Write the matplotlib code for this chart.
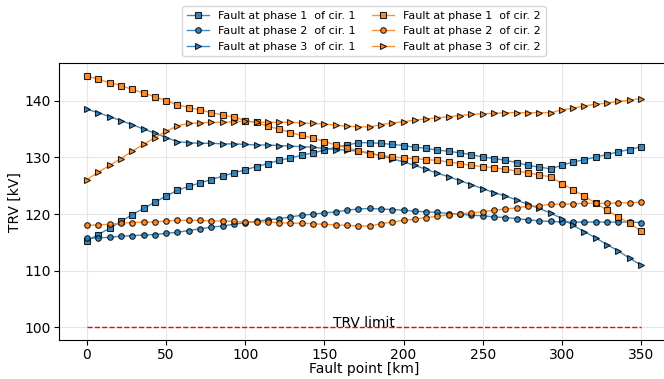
import numpy as np
import matplotlib
matplotlib.use("Agg")
import matplotlib.pyplot as plt

# fault points along the line, 50 samples from 0 to 350 km
fault_km = np.linspace(0, 350, 50)

trv_c1_p1 = [115.3, 116.4, 117.5, 118.7, 119.9, 121.0, 122.1, 123.2, 124.2, 124.9,
             125.5, 126.1, 126.7, 127.3, 127.8, 128.4, 128.9, 129.5, 129.9, 130.4,
             130.8, 131.3, 131.8, 132.2, 132.6, 132.6, 132.5, 132.3, 132.1, 131.8,
             131.6, 131.3, 131.1, 130.8, 130.5, 130.1, 129.8, 129.5, 129.1, 128.6,
             128.3, 128.0, 128.6, 129.2, 129.6, 130.1, 130.5, 131.0, 131.4, 131.9]
trv_c1_p2 = [115.7, 115.8, 115.9, 116.1, 116.2, 116.3, 116.4, 116.6, 116.8, 117.1,
             117.4, 117.7, 117.9, 118.2, 118.5, 118.7, 119.0, 119.2, 119.5, 119.8,
             120.0, 120.2, 120.4, 120.7, 120.9, 121.0, 120.9, 120.8, 120.7, 120.5,
             120.4, 120.3, 120.1, 120.0, 119.8, 119.7, 119.5, 119.4, 119.2, 119.0,
             118.8, 118.7, 118.6, 118.6, 118.6, 118.6, 118.6, 118.6, 118.6, 118.5]
trv_c1_p3 = [138.5, 137.9, 137.2, 136.5, 135.8, 135.0, 134.3, 133.5, 132.8, 132.6,
             132.5, 132.5, 132.4, 132.4, 132.3, 132.2, 132.2, 132.1, 132.0, 131.9,
             131.8, 131.6, 131.4, 131.3, 131.1, 130.8, 130.3, 129.8, 129.2, 128.6,
             127.9, 127.2, 126.6, 125.9, 125.2, 124.5, 123.8, 123.2, 122.5, 121.7,
             121.0, 120.2, 119.2, 118.0, 116.9, 115.8, 114.6, 113.5, 112.2, 111.0]
trv_c2_p1 = [144.4, 143.8, 143.2, 142.7, 142.0, 141.4, 140.7, 140.0, 139.3, 138.8,
             138.4, 137.9, 137.5, 137.1, 136.5, 136.2, 135.5, 135.0, 134.4, 133.9,
             133.4, 132.8, 132.2, 131.7, 131.2, 130.6, 130.4, 130.1, 129.9, 129.8,
             129.6, 129.5, 129.2, 128.9, 128.6, 128.4, 128.2, 127.9, 127.6, 127.3,
             126.9, 126.6, 125.4, 124.3, 123.2, 121.9, 120.7, 119.5, 118.4, 117.0]
trv_c2_p2 = [118.0, 118.1, 118.2, 118.4, 118.5, 118.6, 118.6, 118.8, 118.9, 118.9,
             118.9, 118.8, 118.8, 118.7, 118.6, 118.6, 118.6, 118.5, 118.4, 118.4,
             118.3, 118.2, 118.1, 118.0, 117.9, 117.9, 118.3, 118.6, 118.9, 119.1,
             119.4, 119.6, 119.9, 120.1, 120.2, 120.4, 120.7, 120.9, 121.1, 121.4,
             121.5, 121.7, 121.8, 121.8, 121.9, 121.9, 121.9, 122.0, 122.0, 122.1]
trv_c2_p3 = [126.1, 127.4, 128.6, 129.8, 131.1, 132.3, 133.5, 134.6, 135.6, 136.0,
             136.1, 136.2, 136.2, 136.3, 136.4, 136.2, 136.2, 136.2, 136.2, 136.1,
             136.0, 135.9, 135.7, 135.5, 135.4, 135.4, 135.8, 136.1, 136.3, 136.6,
             136.8, 137.0, 137.2, 137.4, 137.6, 137.7, 137.8, 137.9, 137.9, 137.9,
             137.9, 137.9, 138.4, 138.7, 139.1, 139.4, 139.6, 139.9, 140.1, 140.4]

trv_limit = 100

fig = plt.figure(figsize=(6.64, 3.79), dpi=100)
# right spine ends up just outside the picture, as in the original crop
ax = fig.add_axes([0.0893, 0.1029, 0.9177, 0.7301])

series = [
    (trv_c1_p1, "tab:blue", "s", "Fault at phase 1  of cir. 1"),
    (trv_c1_p2, "tab:blue", "o", "Fault at phase 2  of cir. 1"),
    (trv_c1_p3, "tab:blue", ">", "Fault at phase 3  of cir. 1"),
    (trv_c2_p1, "tab:orange", "s", "Fault at phase 1  of cir. 2"),
    (trv_c2_p2, "tab:orange", "o", "Fault at phase 2  of cir. 2"),
    (trv_c2_p3, "tab:orange", ">", "Fault at phase 3  of cir. 2"),
]
for vals, col, mk, lab in series:
    ax.plot(fault_km, vals, color=col, marker=mk, markersize=4,
            markeredgecolor="black", markeredgewidth=0.8, linewidth=1,
            alpha=0.85, label=lab)

ax.plot([fault_km[0], fault_km[-1]], [trv_limit, trv_limit], "--", color="red", linewidth=1)
ax.text(175, trv_limit, "TRV limit", ha="center", va="baseline", fontsize=10)

ax.set_xticks(np.arange(0, 351, 50))
ax.set_yticks(np.arange(100, 141, 10))
ax.tick_params(labelsize=10, length=3.5, pad=2.5)
ax.grid(True, color="#e6e6e6", linewidth=0.8)
ax.set_axisbelow(True)
ax.set_xlabel("Fault point [km]", fontsize=10, labelpad=0)
ax.set_ylabel("TRV [kV]", fontsize=10, labelpad=2)

ax.legend(ncol=2, loc="lower center", bbox_to_anchor=(0.5, 1.005),
          fontsize=8, columnspacing=1.5, handlelength=2)

fig.savefig("out.png", dpi=100)
